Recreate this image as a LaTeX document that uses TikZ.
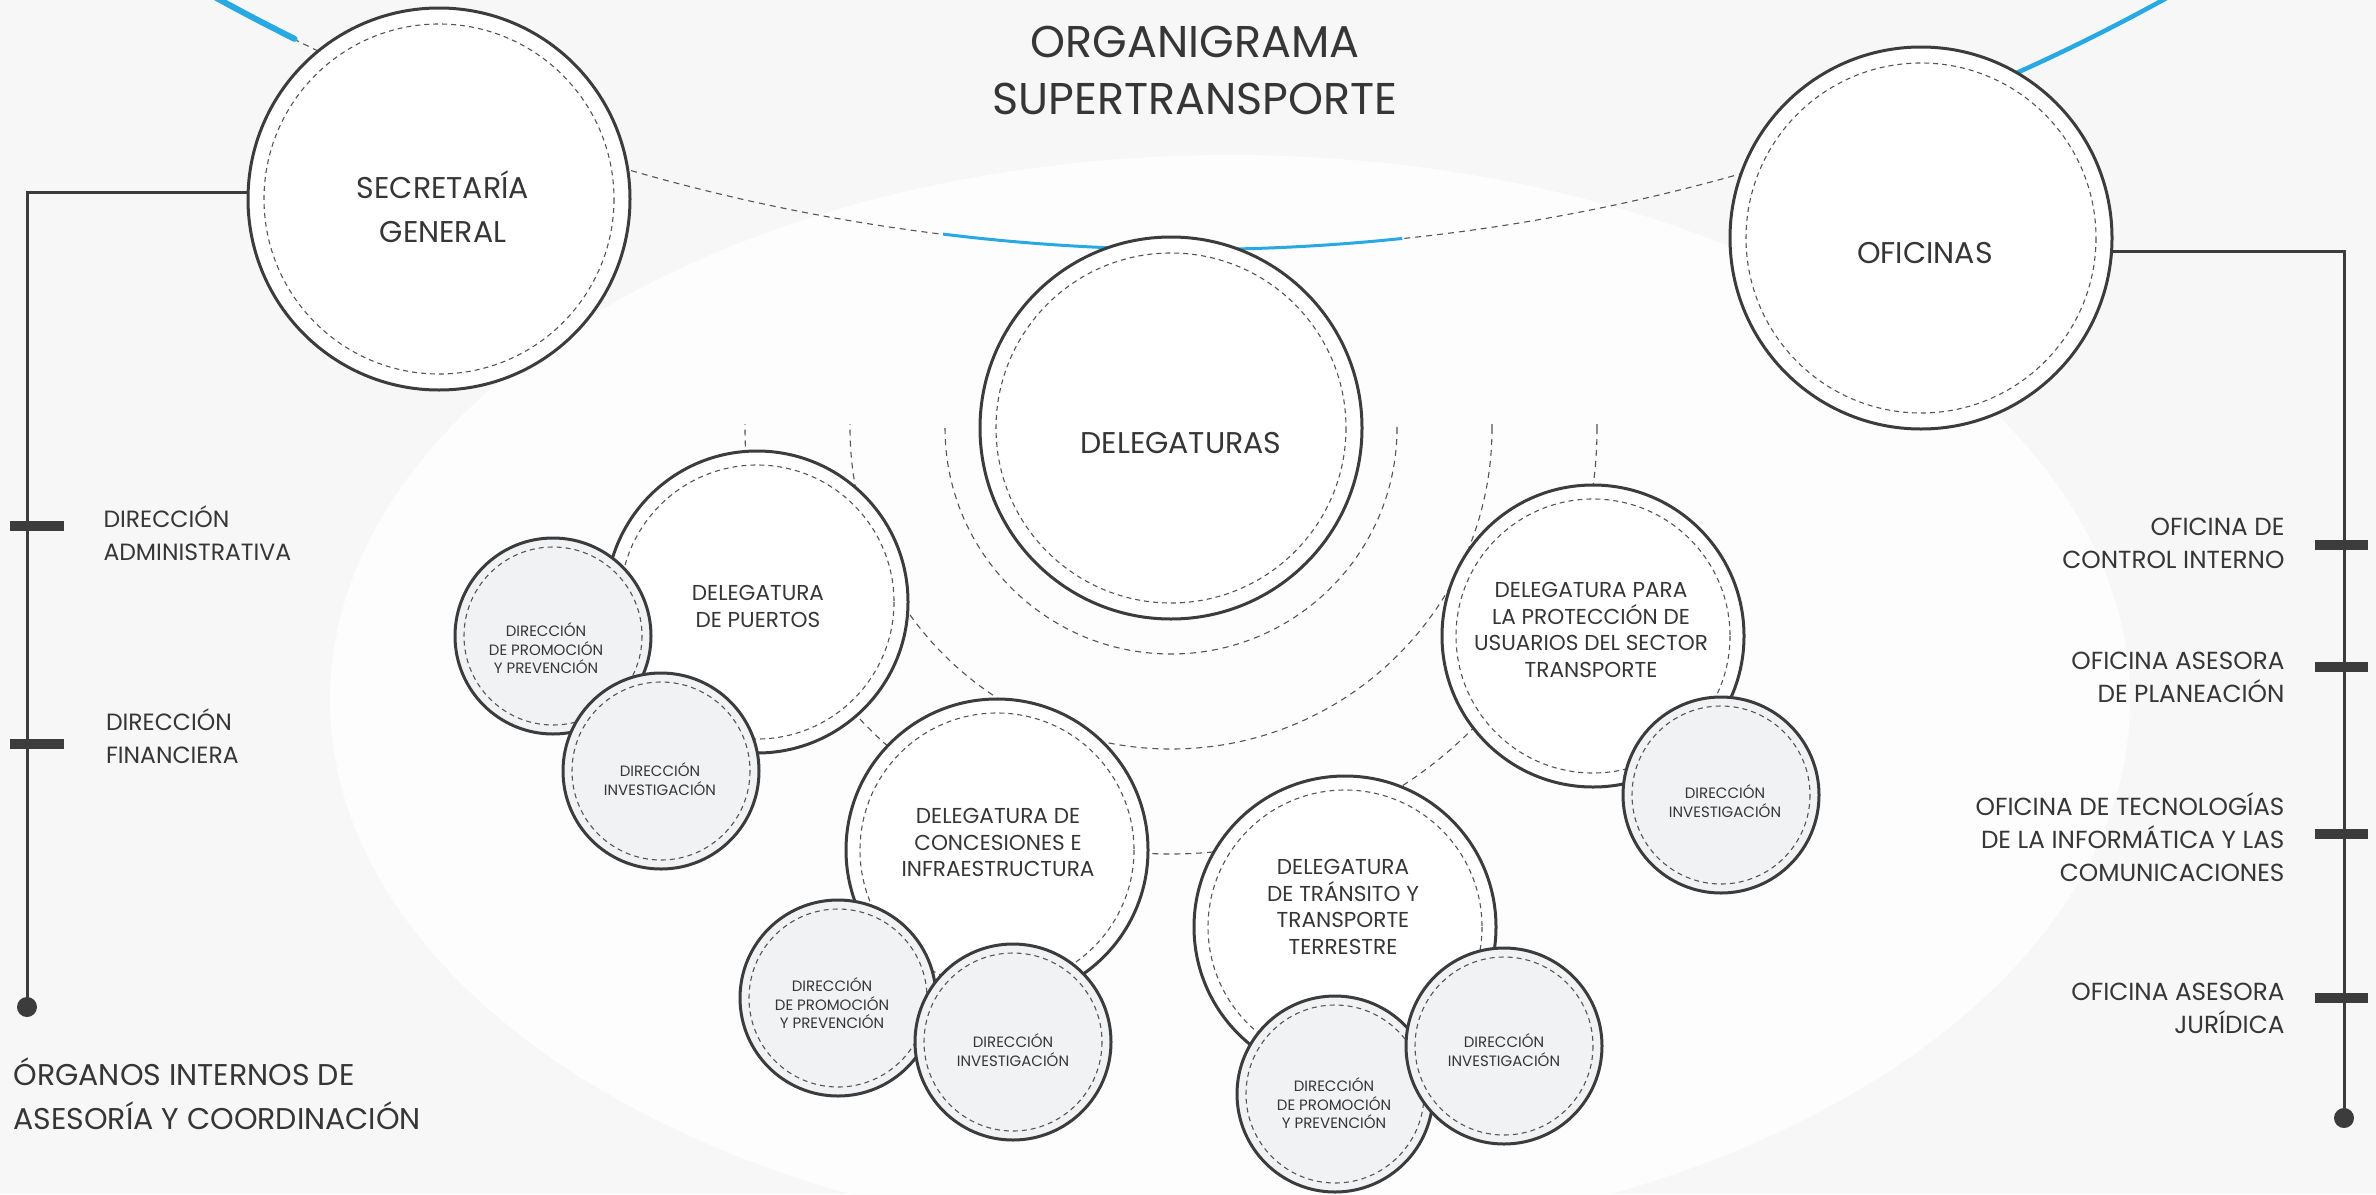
\documentclass[tikz,border=0pt]{standalone}
\usepackage{fontspec}
\setmainfont{Poppins}
\definecolor{ink}{HTML}{3C3C3C}
\definecolor{txtc}{HTML}{363636}
\definecolor{subfill}{HTML}{F1F2F4}
\definecolor{skyline}{HTML}{29A9E1}
\definecolor{bgc}{HTML}{F7F7F7}
\definecolor{bgin}{HTML}{FDFDFD}
\definecolor{dashc}{HTML}{555555}
\newcommand\setfs[2]{\fontsize{#1pt}{#2pt}\selectfont}
\tikzset{
  innerdash/.style={draw=dashc, line width=1.1pt, dash pattern=on 5pt off 4pt},
  linkdash/.style={draw=dashc, line width=1.1pt, dash pattern=on 6pt off 5pt},
  ringbase/.style={circle, draw=ink, line width=3pt, inner sep=0pt, outer sep=0pt},
  bigc/.style={ringbase, fill=white, minimum size=382pt,
    path picture={\draw[innerdash] (path picture bounding box.center) circle[radius=175];}},
  midc/.style={ringbase, fill=white, minimum size=302pt,
    path picture={\draw[innerdash] (path picture bounding box.center) circle[radius=137];}},
  subc/.style={ringbase, fill=subfill, minimum size=196pt,
    path picture={\draw[innerdash] (path picture bounding box.center) circle[radius=89];}},
  bigt/.style={text=txtc, align=center, font=\setfs{30}{44}},
  midt/.style={text=txtc, align=center, font=\setfs{21.6}{26.5}},
  subt/.style={text=txtc, align=center, font=\setfs{15}{18.5}},
  sidet/.style={text=txtc, font=\setfs{24.7}{33}},
  leftt/.style={text=txtc, font=\setfs{23.5}{33}},
  conn/.style={draw=ink, line width=3pt},
  tickbar/.style={fill=ink, minimum height=10pt, inner sep=0pt, outer sep=0pt},
  enddot/.style={circle, fill=ink, minimum size=20pt, inner sep=0pt},
}
\begin{document}
\begin{tikzpicture}[x=1pt,y=-1pt]
\useasboundingbox (0,0) rectangle (2376,1194);
\clip (0,0) rectangle (2376,1194);
% background
\fill[bgc] (0,0) rectangle (2376,1194);
\fill[bgin] (1230,700) ellipse [x radius=900, y radius=545];
% large linking ring
\coordinate (ringc) at (1191.5,-1766.5);
\draw[linkdash] (ringc) circle[radius=2016];
\draw[skyline, line width=6pt, line cap=round] (ringc) ++(116.42:2016) arc[start angle=116.42, end angle=121, radius=2016];
\draw[skyline, line width=3pt] (ringc) ++(97.08:2016) arc[start angle=97.08, end angle=84.0, radius=2016];
\draw[skyline, line width=4.5pt] (ringc) ++(67:2016) arc[start angle=67, end angle=59, radius=2016];
% dashed half rings around DELEGATURAS
\begin{scope}
\clip (0,424) rectangle (2376,1194);
\foreach \r in {226,321,426} \draw[linkdash] (1171,428) circle[radius=\r];
\end{scope}
% main circles
\node[bigc] (sec) at (439,199) {};
\node[bigt] (sec-t) at (443,207) {SECRETARÍA\\GENERAL};
\node[bigc] (ofi) at (1921,238) {};
\node[bigt] (ofi-t) at (1925,253) {OFICINAS};
\node[bigc] (dlg) at (1171,428) {};
\node[bigt] (dlg-t) at (1181,443) {DELEGATURAS};
% puertos
\node[midc] (pue) at (757,602) {};
\node[midt] (pue-t) at (758,606.5) {DELEGATURA\\DE PUERTOS};
\node[subc] (pprom) at (553,636) {};
\node[subt] (pprom-t) at (546,648.5) {DIRECCIÓN\\DE PROMOCIÓN\\Y PREVENCIÓN};
\node[subc] (pinv) at (661,771) {};
\node[subt] (pinv-t) at (660,779) {DIRECCIÓN\\INVESTIGACIÓN};
% concesiones
\node[midc] (con) at (997,850) {};
\node[midt] (con-t) at (998,842.5) {DELEGATURA DE\\CONCESIONES E\\INFRAESTRUCTURA};
\node[subc] (cprom) at (838,998) {};
\node[subt] (cprom-t) at (832,1003.5) {DIRECCIÓN\\DE PROMOCIÓN\\Y PREVENCIÓN};
\node[subc] (cinv) at (1013,1042) {};
\node[subt] (cinv-t) at (1013,1050) {DIRECCIÓN\\INVESTIGACIÓN};
% transito
\node[midc] (tra) at (1345,927) {};
\node[midt] (tra-t) at (1343,907) {DELEGATURA\\DE TRÁNSITO Y\\TRANSPORTE\\TERRESTRE};
\node[subc] (tprom) at (1335,1094) {};
\node[subt] (tprom-t) at (1334,1103.5) {DIRECCIÓN\\DE PROMOCIÓN\\Y PREVENCIÓN};
\node[subc] (tinv) at (1504,1046) {};
\node[subt] (tinv-t) at (1504,1050) {DIRECCIÓN\\INVESTIGACIÓN};
% proteccion
\node[midc] (pro) at (1593,636) {};
\node[midt] (pro-t) at (1591,630) {DELEGATURA PARA\\LA PROTECCIÓN DE\\USUARIOS DEL SECTOR\\TRANSPORTE};
\node[subc] (prinv) at (1721,795) {};
\node[subt] (prinv-t) at (1725,801) {DIRECCIÓN\\INVESTIGACIÓN};
% title
\node[text=txtc, align=center, font=\setfs{44.5}{57}] (title) at (1195,70) {ORGANIGRAMA\\SUPERTRANSPORTE};
% left branch
\coordinate (ldotc) at (27,1007);
\draw[conn] (sec.178) -| (ldotc);
\node[enddot] (ldot) at (ldotc) {};
\node[tickbar, minimum width=54pt] (lb1) at (37,526) {};
\node[tickbar, minimum width=54pt] (lb2) at (37,744) {};
\node[leftt, anchor=west, align=left] (lb1-t) at (100,533.5) {DIRECCIÓN\\ADMINISTRATIVA};
\node[leftt, anchor=west, align=left] (lb2-t) at (102.5,736) {DIRECCIÓN\\FINANCIERA};
\node[text=txtc, anchor=west, align=left, font=\setfs{30}{44}] (org-t) at (10,1094) {ÓRGANOS INTERNOS DE\\ASESORÍA Y COORDINACIÓN};
% right branch
\coordinate (rdotc) at (2344,1118);
\draw[conn] (ofi.-4) -| (rdotc);
\node[enddot] (rdot) at (rdotc) {};
\node[tickbar, minimum width=53pt] (rb1) at (2341.5,545) {};
\node[tickbar, minimum width=53pt] (rb2) at (2341.5,667) {};
\node[tickbar, minimum width=53pt] (rb3) at (2341.5,834) {};
\node[tickbar, minimum width=53pt] (rb4) at (2341.5,998) {};
\node[sidet, anchor=east, align=right] (rb1-t) at (2288,543.5) {OFICINA DE\\CONTROL INTERNO};
\node[sidet, anchor=east, align=right] (rb2-t) at (2288,677) {OFICINA ASESORA\\DE PLANEACIÓN};
\node[sidet, anchor=east, align=right] (rb3-t) at (2288,837) {OFICINA DE TECNOLOGÍAS\\DE LA INFORMÁTICA Y LAS\\COMUNICACIONES};
\node[sidet, anchor=east, align=right] (rb4-t) at (2288,1008.5) {OFICINA ASESORA\\JURÍDICA};
\end{tikzpicture}
\end{document}
